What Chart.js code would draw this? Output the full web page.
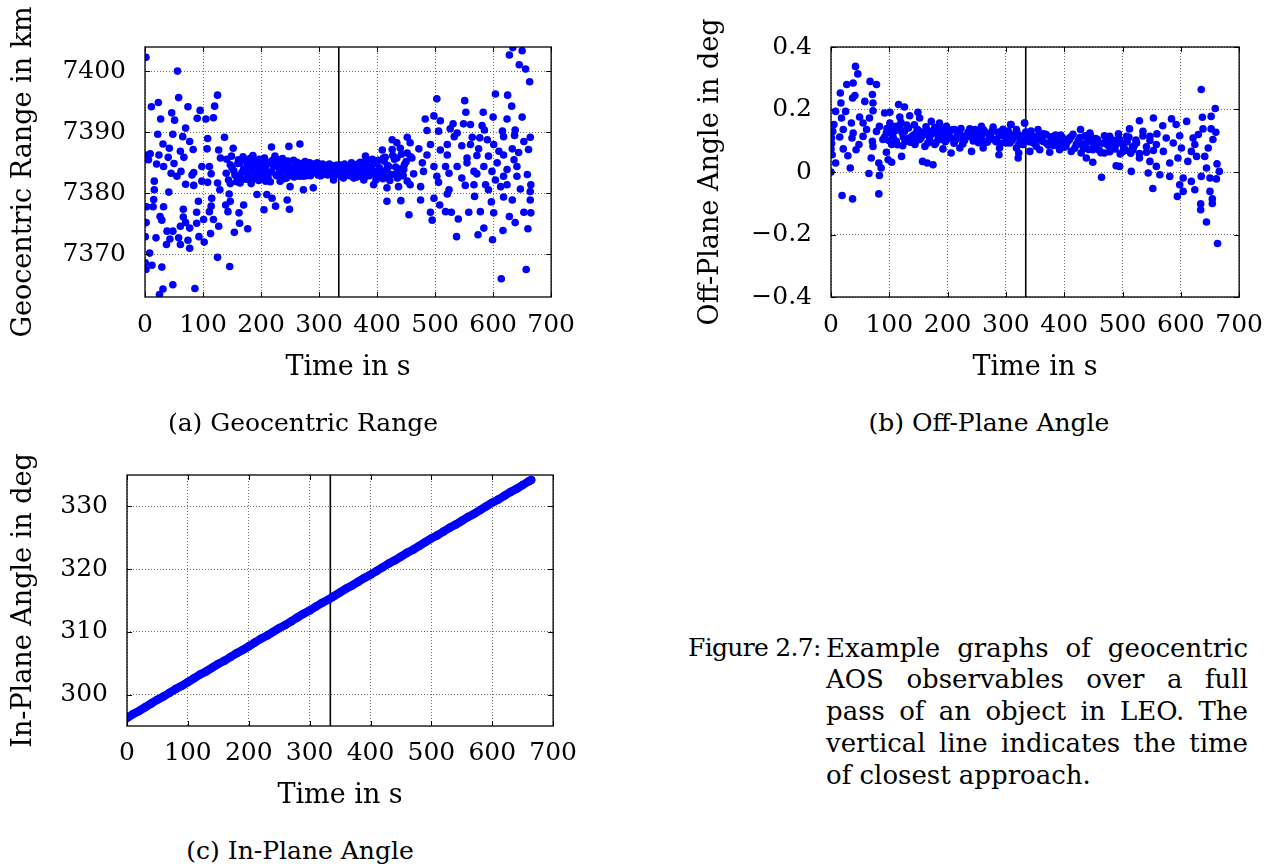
<!DOCTYPE html>
<html><head><meta charset="utf-8">
<script src="https://cdn.jsdelivr.net/npm/chart.js@4/dist/chart.umd.min.js"></script>
<style>
html,body{margin:0;padding:0;background:#fff}
body{width:1276px;height:867px;overflow:hidden;position:relative;font-family:"DejaVu Serif",serif;color:#000}
canvas{position:absolute}
.sub{position:absolute;font-size:25px;white-space:nowrap;transform:translate(-50%,-50%);line-height:30px}
.cl{position:absolute;font-size:26px;line-height:32px;height:32px;white-space:nowrap;overflow:visible;text-align:justify;text-align-last:justify}
.cl.last{text-align:left;text-align-last:left}
.cl.fig{font-size:25px;letter-spacing:-0.7px}
</style></head><body>
<canvas id="ca" width="588" height="400" style="left:0;top:0"></canvas>
<canvas id="cb" width="586" height="400" style="left:690px;top:0"></canvas>
<canvas id="cc" width="589" height="400" style="left:0;top:430px"></canvas>
<div class="sub" style="left:303px;top:423px">(a) Geocentric Range</div>
<div class="sub" style="left:989px;top:423px">(b) Off-Plane Angle</div>
<div class="sub" style="left:300px;top:851px">(c) In-Plane Angle</div>
<div class="cl last fig" style="left:688px;top:632px;width:132px">Figure 2.7:</div>
<div class="cl" style="left:826px;top:632px;width:422px">Example graphs of geocentric</div>
<div class="cl" style="left:826px;top:663px;width:422px">AOS observables over a full</div>
<div class="cl" style="left:826px;top:695px;width:422px">pass of an object in LEO. The</div>
<div class="cl" style="left:826px;top:727px;width:422px">vertical line indicates the time</div>
<div class="cl last" style="left:826px;top:759px;width:422px">of closest approach.</div>
<script>
// ---------- data ----------
const timeTicks = [0,100,200,300,400,500,600,700];
const rangeTicks = [7370,7380,7390,7400];
const offTicks = [-0.4,-0.2,0,0.2,0.4];
const inTicks = [300,310,320,330];
const tca = 334; // time of closest approach, s

const rangeTime = [
1.7,56,125,58,11,23,74,95,120,46,27,51,90,105,118,70,22,48,65,77,108,137,31,42,0,9,24,40,61,83,107,127,152,218,248,267,224,186,
6,20,50,67,32,45,62,84,98,111,130,147,164,182,205,55,81,114,140,157,173,190,210,233,245,262,273,16,70,84,98,108,125,147,164,183,
208,233,250,273,290,16,41,129,145,193,210,15,92,115,147,170,219,245,3,14,32,66,114,139,162,205,225,249,89,111,143,26,29,66,101,118,
2,70,89,163,61,77,127,38,48,113,154,177,0.5,19,43,58,74,93,37,61,102,77,8,125,0.5,12,29,146,1.7,48,31,86,25,
150,155,160,165,170,175,178,185,188,192,196,198,202,207,212,215,218,222,227,229,232,236,239,242,247,251,254,257,260,264,268,271,275,279,
282,285,288,292,295,298,301,304,307,310,313,316,319,322,325,328,331,336,339,342,345,348,351,354,357,360,364,367,370,373,376,380,383,386,
390,393,396,400,404,408,412,416,420,425,430,435,440,445,450,
634,628,650,645,656,663,503,551,604,625,632,553,583,600,483,498,509,624,650,531,549,561,581,486,506,526,538,585,616,638,533,564,577,590,
618,637,664,653,426,452,434,457,492,521,546,561,601,472,509,575,610,633,661,409,426,440,452,486,521,555,572,592,618,636,644,380,391,411,
434,460,478,498,518,538,555,567,584,607,624,641,659,331,348,363,374,388,403,417,434,446,463,480,503,524,546,572,598,618,641,325,342,360,
377,394,417,437,457,475,506,524,552,567,587,592,604,613,624,647,665,664,417,441,475,498,521,568,597,618,633,664,455,492,508,518,528,540,
495,558,578,601,628,638,653,665,660,537,574,584,599,617,614,657,
141,144,149,153,158,161,167,169,174,177,181,184,187,191,194,197,200,204,206,209,213,216,220,224,226,230,234,237,241,244,246,249,253,256,
259,262,266,269,273,276,278,281,284,287,290,294,297,300,303,306,309,312,315,318,321,324,327,330,333,335,338,341,344,347,350,353,356,359,
362,365,368,371,375,378,381,385,388,392,395,398,402,406,410,414,418,422,427,432,437,442,447,452,458
];
const rangeKm = [
7402.3,7400.05,7396.1,7395.7,7394.2,7394.9,7394.2,7393.6,7394.3,7393.2,7392.2,7392.0,7392.3,7392.2,7392.4,7390.7,7389.7,7389.7,7389.3,7388.5,7389.0,7389.2,7388.1,7387.4,7386.3,7386.5,7386.3,7385.9,7386.9,7387.2,7387.3,7387.1,7387.4,7387.6,7387.7,7388.1,7386.1,7386.2,
7385.5,7384.8,7384.9,7385.9,7384.4,7383.3,7383.6,7383.4,7384.4,7384.4,7385.8,7384.7,7385.0,7384.4,7385.4,7382.8,7383.0,7383.2,7383.3,7382.9,7383.6,7382.8,7383.3,7383.6,7384.4,7383.9,7382.8,7382.0,7381.5,7381.3,7382.0,7381.8,7381.7,7381.6,7381.7,7381.6,
7382.0,7382.0,7381.1,7380.6,7380.9,7380.6,7380.2,7380.6,7379.9,7379.8,7379.8,7379.0,7378.7,7379.2,7378.7,7378.1,7379.2,7378.9,7377.8,7377.8,7377.8,7377.4,7377.9,7378.1,7376.8,7377.3,7377.9,7377.4,7376.9,7377.0,7377.0,7376.2,7375.6,7376.1,7375.7,7375.7,
7375.2,7375.2,7375.1,7375.1,7374.6,7374.3,7374.6,7373.8,7373.8,7373.4,7373.6,7374.2,7372.9,7372.7,7372.5,7372.7,7372.3,7372.9,7371.6,7371.6,7372.0,7371.0,7370.2,7369.5,7368.6,7368.2,7367.9,7368.0,7367.5,7365.0,7364.3,7364.4,7363.4,
7384.2,7383.0,7384.9,7382.4,7384.0,7385.3,7382.9,7383.8,7384.9,7383.4,7382.1,7384.6,7383.1,7384.0,7382.6,7385.1,7383.5,7384.4,7382.9,7384.9,7383.8,7384.6,7382.4,7383.6,7384.8,7383.3,7384.1,7382.7,7385.0,7383.9,7384.5,7383.2,7384.3,7383.6,
7384.9,7382.9,7384.0,7383.5,7384.6,7383.0,7384.2,7383.7,7384.5,7383.2,7384.0,7383.5,7384.3,7383.1,7383.9,7383.4,7384.1,7383.6,7384.2,7383.3,7384.5,7383.0,7383.8,7384.6,7383.4,7384.1,7383.2,7384.8,7383.7,7382.8,7384.4,7383.5,7385.0,7382.9,
7384.1,7383.3,7384.9,7382.6,7384.2,7383.5,7385.3,7382.7,7384.4,7383.1,7385.6,7382.5,7384.0,7382.9,7385.2,
7403.9,7402.7,7403.4,7401.1,7400.4,7398.3,7395.5,7395.2,7396.3,7396.1,7394.3,7393.3,7393.3,7392.5,7392.2,7392.7,7391.9,7392.2,7392.5,7391.4,7391.4,7391.3,7391.1,7390.3,7390.2,7390.6,7389.9,7390.4,7390.2,7390.4,7389.3,7389.2,7389.1,7388.8,
7389.3,7389.5,7389.2,7388.5,7388.8,7389.2,7388.3,7388.3,7388.0,7388.0,7387.8,7388.0,7388.0,7387.3,7387.1,7387.3,7386.9,7387.3,7387.2,7387.1,7387.2,7387.4,7386.6,7386.3,7386.3,7385.8,7386.2,7386.1,7386.3,7385.5,7386.7,7386.1,7385.5,7385.8,
7385.8,7385.8,7385.0,7384.4,7384.4,7384.4,7385.0,7383.6,7384.4,7385.0,7383.9,7384.4,7383.1,7383.3,7383.9,7384.7,7383.6,7384.2,7383.3,7383.9,7383.3,7383.9,7383.2,7383.6,7382.8,7383.3,7382.5,7383.2,7383.6,7382.8,7382.8,7382.2,7382.5,7382.5,
7382.2,7381.4,7380.9,7381.1,7381.4,7381.1,7381.8,7380.6,7381.3,7381.4,7381.4,7380.6,7382.2,7381.1,7381.4,7380.7,7381.4,7380.3,7378.7,7378.8,7378.9,7379.2,7379.9,7379.5,7378.6,7379.4,7378.9,7378.9,7376.5,7376.9,7378.1,7377.0,7376.9,7375.8,
7375.6,7376.9,7377.0,7376.8,7376.2,7375.2,7376.9,7376.8,7374.2,7372.9,7373.2,7374.3,7372.4,7373.9,7366.0,7367.5,
7385.6,7382.2,7386.1,7383.7,7381.9,7385.5,7383.4,7386.0,7382.3,7384.6,7385.7,7382.2,7385.2,7384.0,7382.5,7385.6,7383.9,7382.3,7385.8,7384.6,7383.5,7381.9,7385.4,7384.9,7383.0,7385.5,7382.6,7385.7,7384.0,7382.5,7385.3,7384.2,7382.9,7385.4,
7383.6,7385.1,7382.8,7384.9,7384.0,7385.2,7382.9,7384.3,7385.0,7383.3,7384.8,7384.1,7385.0,7383.6,7382.9,7384.8,7383.9,7384.6,7383.0,7384.8,7383.7,7384.5,7382.9,7384.6,7383.8,7384.7,7382.9,7384.0,7384.8,7383.5,7384.4,7382.9,7385.0,7383.7,
7384.3,7382.7,7384.1,7385.1,7383.9,7382.6,7385.3,7384.0,7383.0,7385.6,7383.6,7382.2,7385.4,7383.8,7382.4,7385.9,7384.6,7382.1,7386.2,7384.3,7382.7,7386.4,7384.7,7382.0,7386.0
];

const offTime = [
42,46,67,78,27,38,16,41,71,37,58,17,72,116,126,8,25,72,92,101,149,18,49,66,118,135,152,5,35,55,83,101,112,172,186,198,212,238,258,278,308,332,
3,21,38,61,78,95,126,146,164,181,201,221,235,255,272,292,318,1,15,36,55,71,89,106,135,152,169,186,206,226,244,261,284,304,324,
1,48,72,104,123,144,161,178,192,206,221,241,261,289,322,329,0,21,43,29,95,121,2,8,69,98,104,157,165,175,288,82,33,0,65,86,83,19,37,82,
635,659,652,637,553,529,584,610,569,592,638,652,660,332,309,355,428,512,535,318,341,369,392,409,444,478,495,507,547,575,598,621,630,655,
307,329,347,364,381,398,421,438,455,472,489,524,558,587,624,647,318,341,358,375,392,412,429,449,469,501,518,541,570,601,618,641,
321,438,449,489,495,515,529,547,558,581,595,612,627,644,662,666,464,544,564,581,604,618,635,650,661,552,598,604,624,650,594,654,634,634,654,644,663,
105,112,118,124,130,136,142,148,154,160,166,172,178,184,190,196,202,208,214,220,226,232,238,244,250,256,262,268,274,280,286,292,298,304,310,316,322,328,
334,340,346,352,358,364,370,376,382,388,394,400,406,412,418,424,430,436,442,448,454,460,466,472,478,484,490,496,502,508,514,520,
92,96,99,103,107,110,114,120,122,127,133,139,143,146,151,157,163,169,175,180,187,193,199,205,211,217,223,229,235,241,247,253,259,265,271,277,
283,289,295,301,307,313,319,325,331,337,343,349,355,361,367,373,379,385,391,397,403,409,415,421,427,433,439,445,451,457,463,469,475,481,487,493,
499,505,511,517,523,529,535,541,547,553,559
];
const offDeg = [
0.338,0.314,0.290,0.280,0.280,0.285,0.253,0.245,0.248,0.237,0.226,0.221,0.221,0.216,0.208,0.194,0.194,0.196,0.189,0.191,0.191,0.173,0.176,0.173,0.176,0.180,0.173,0.152,0.157,0.157,0.146,0.157,0.146,0.162,0.157,0.146,0.136,0.138,0.146,0.144,0.152,0.157,
0.130,0.136,0.125,0.136,0.130,0.125,0.130,0.125,0.136,0.125,0.125,0.123,0.114,0.125,0.114,0.130,0.136,0.109,0.112,0.109,0.114,0.098,0.104,0.114,0.109,0.104,0.112,0.104,0.109,0.104,0.109,0.098,0.104,0.109,0.114,
0.091,0.088,0.082,0.088,0.084,0.088,0.082,0.088,0.074,0.061,0.077,0.066,0.077,0.077,0.061,0.088,0.074,0.074,0.071,0.052,0.063,0.050,0.055,0.029,0.045,0.039,0.031,0.034,0.029,0.023,0.055,0.029,0.013,0.000,-0.005,0.013,-0.011,-0.075,-0.086,-0.070,
0.264,0.203,0.178,0.175,0.173,0.164,0.170,0.162,0.148,0.152,0.138,0.138,0.127,0.157,0.152,0.136,0.136,0.138,0.130,0.125,0.120,0.120,0.114,0.109,0.125,0.114,0.104,0.114,0.114,0.109,0.116,0.109,0.120,0.104,
0.093,0.098,0.093,0.098,0.095,0.091,0.088,0.093,0.084,0.093,0.088,0.093,0.088,0.093,0.088,0.077,0.077,0.066,0.071,0.063,0.071,0.066,0.061,0.071,0.061,0.066,0.071,0.063,0.066,0.077,0.066,0.050,
0.045,0.045,0.031,0.020,0.018,0.002,0.045,0.034,0.018,0.029,0.045,0.034,0.050,0.013,0.026,0.002,-0.017,-0.003,-0.009,-0.014,-0.019,-0.030,-0.014,-0.019,-0.022,-0.053,-0.041,-0.062,-0.057,-0.062,-0.078,-0.086,-0.102,-0.121,-0.101,-0.160,-0.229,
0.125,0.098,0.140,0.112,0.150,0.095,0.118,0.137,0.108,0.128,0.093,0.121,0.142,0.110,0.130,0.097,0.118,0.135,0.103,0.126,0.090,0.117,0.131,0.099,0.122,0.108,0.134,0.095,0.119,0.103,0.127,0.092,0.114,0.131,0.100,0.121,0.089,0.110,
0.128,0.097,0.115,0.082,0.108,0.122,0.091,0.113,0.085,0.104,0.118,0.079,0.098,0.113,0.076,0.101,0.088,0.116,0.072,0.096,0.107,0.070,0.092,0.110,0.065,0.087,0.102,0.058,0.081,0.097,0.060,0.084,
0.112,0.139,0.101,0.146,0.107,0.132,0.087,0.159,0.126,0.098,0.141,0.114,0.151,0.099,0.131,0.117,0.145,0.101,0.133,0.094,0.139,0.116,0.104,0.132,0.092,0.121,0.139,0.101,0.127,0.112,0.136,0.094,0.118,0.127,0.104,0.133,
0.097,0.117,0.137,0.093,0.121,0.108,0.127,0.099,0.118,0.106,0.131,0.094,0.115,0.101,0.121,0.086,0.107,0.118,0.092,0.110,0.083,0.104,0.121,0.089,0.110,0.075,0.099,0.117,0.083,0.104,0.062,0.116,0.085,0.104,0.074,0.122,
0.093,0.070,0.111,0.080,0.102,0.059,0.115,0.081,0.101,0.069,0.122
];

const inTime = [0,10,20,30,40,50,60,70,80,90,100,110,120,130,140,150,160,170,180,190,200,210,220,230,240,250,260,270,280,290,300,310,320,330,
340,350,360,370,380,390,400,410,420,430,440,450,460,470,480,490,500,510,520,530,540,550,560,570,580,590,600,610,620,630,640,650,660,664];
const inDeg = [296.3,296.9,297.4,298.0,298.6,299.2,299.7,300.3,300.9,301.4,302.0,302.6,303.2,303.7,304.3,304.9,305.4,306.0,306.6,307.1,307.7,308.3,308.9,309.4,310.0,310.6,311.1,311.7,312.3,312.9,313.4,314.0,314.6,315.1,
315.7,316.3,316.9,317.4,318.0,318.6,319.1,319.7,320.3,320.9,321.4,322.0,322.6,323.1,323.7,324.3,324.9,325.4,326.0,326.6,327.1,327.7,328.3,328.8,329.4,330.0,330.6,331.1,331.7,332.3,332.8,333.4,334.0,334.2];

// ---------- drawing ----------
const TICKFONT = {family:'"DejaVu Serif", serif', size:25, lineHeight:1.2};
const TITLEFONT = {family:'"DejaVu Serif", serif', size:27, lineHeight:1.2};
function fmt(v){ const n = Math.round(v*1000)/1000; return n < 0 ? '\u2212' + String(-n) : String(n); }

const framePlugin = {
  id:'frame',
  afterDatasetsDraw(chart){
    const {ctx, chartArea:a, scales:{x, y}} = chart;
    ctx.save();
    ctx.strokeStyle = '#000';
    ctx.lineWidth = 1;
    const L = 5;
    const seg = (x1,y1,x2,y2)=>{ctx.beginPath();ctx.moveTo(x1,y1);ctx.lineTo(x2,y2);ctx.stroke();};
    x.ticks.forEach(t=>{ const p = Math.round(x.getPixelForValue(t.value))+0.5; seg(p,a.bottom,p,a.bottom-L); seg(p,a.top,p,a.top+L); });
    y.ticks.forEach(t=>{ const p = Math.round(y.getPixelForValue(t.value))+0.5; seg(a.left,p,a.left+L,p); seg(a.right,p,a.right-L,p); });
    ctx.lineWidth = 1.3;
    ctx.strokeRect(a.left, a.top, a.right-a.left, a.bottom-a.top);
    ctx.restore();
  }
};

function build(id, o){
  const pts = o.xs.map((x,i)=>({x:x, y:o.ys[i]}));
  return new Chart(document.getElementById(id), {
    type:'scatter',
    data:{datasets:[
      {data:pts, pointRadius:o.r, pointBackgroundColor:'#0000ff', pointBorderWidth:0, pointBorderColor:'#0000ff',
       borderColor:'#0000ff', backgroundColor:'#0000ff', showLine:!!o.lw, borderWidth:o.lw||0, borderCapStyle:'round', borderJoinStyle:'round'},
      {data:[{x:tca, y:o.yMin},{x:tca, y:o.yMax}], showLine:true, borderColor:'#000', borderWidth:1.6, pointRadius:0, backgroundColor:'#000'}
    ]},
    options:{
      responsive:false, animation:false, devicePixelRatio:1, events:[],
      layout:{padding:{top:o.padTop, right:0, left:0, bottom:0}},
      plugins:{legend:{display:false}, tooltip:{enabled:false}},
      scales:{
        x:{type:'linear', position:'bottom', min:0, max:700,
           afterBuildTicks:s=>{ s.ticks = timeTicks.map(v=>({value:v})); },
           afterFit:s=>{ s.height = o.xH; },
           ticks:{font:TICKFONT, color:'#000', padding:o.xTickPad, maxRotation:0, minRotation:0, autoSkip:false, callback:v=>fmt(v)},
           grid:{color:'#6e6e6e', lineWidth:1, drawTicks:false},
           border:{display:false, dash:[1,2]},
           title:{display:true, text:'Time in s', font:TITLEFONT, color:'#000', padding:{top:0, bottom:o.xTitlePad}}},
        y:{type:'linear', position:'left', min:o.yMin, max:o.yMax,
           afterBuildTicks:s=>{ s.ticks = o.yTicks.map(v=>({value:v})); },
           afterFit:s=>{ s.width = o.yW; },
           ticks:{font:TICKFONT, color:'#000', padding:o.yTickPad, autoSkip:false, callback:v=>fmt(v)},
           grid:{color:'#6e6e6e', lineWidth:1, drawTicks:false},
           border:{display:false, dash:[1,2]},
           title:{display:true, text:o.yTitle, font:TITLEFONT, color:'#000', padding:{top:o.yTitlePad, bottom:0}}}
      }
    },
    plugins:[framePlugin]
  });
}

build('ca', {xs:rangeTime, ys:rangeKm, yMin:7363, yMax:7404, yTicks:rangeTicks, yTitle:'Geocentric Range in km',
  r:3.8, padTop:47, yW:145, xH:103, yTickPad:19, xTickPad:13, yTitlePad:8, xTitlePad:16});
build('cb', {xs:offTime, ys:offDeg, yMin:-0.4, yMax:0.4, yTicks:offTicks, yTitle:'Off-Plane Angle in deg',
  r:3.8, padTop:47, yW:141, xH:103, yTickPad:19, xTickPad:13, yTitlePad:5, xTitlePad:16});
build('cc', {xs:inTime, ys:inDeg, yMin:295, yMax:335, yTicks:inTicks, yTitle:'In-Plane Angle in deg',
  r:4.2, lw:8.4, padTop:45, yW:127, xH:104, yTickPad:19, xTickPad:12, yTitlePad:8, xTitlePad:18});
</script>
</body></html>
